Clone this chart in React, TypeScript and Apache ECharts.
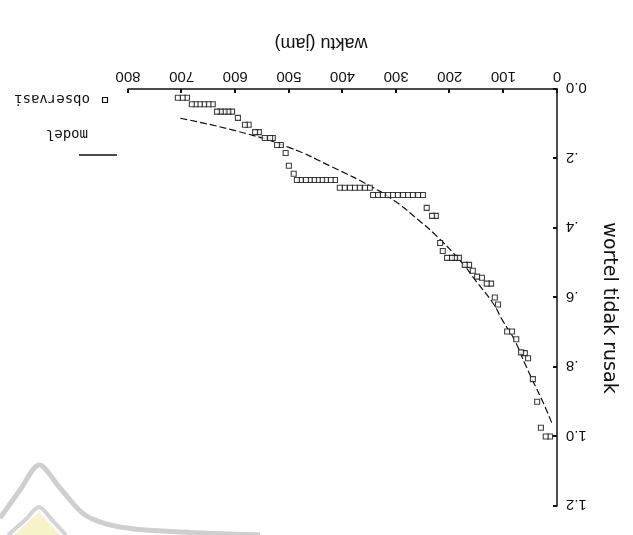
import React, { useEffect, useRef } from "react";
import * as echarts from "echarts";

// ---- data (hours, fraction of undamaged carrots) ----
const xTickValues = [0, 100, 200, 300, 400, 500, 600, 700, 800];
const yTickLabels = ["0.0", ".2", ".4", ".6", ".8", "1.0", "1.2"];

const obsTime = [
  13, 21, 30, 37, 45, 54, 60, 67, 76, 84, 93, 110, 116, 123, 131, 140, 149, 157, 164, 172,
  183, 190, 196, 205, 213, 218, 226, 233, 243,
  250, 259, 269, 278, 287, 297, 306, 315, 325, 334, 343,
  349, 358, 368, 377, 386, 396, 405,
  414, 422, 431, 438, 446, 453, 461, 468, 478, 485,
  491, 500, 506, 515, 522, 530, 535, 545, 556, 563, 575, 582, 595,
  606, 613, 620, 627, 634,
  642, 650, 658, 666, 674, 681,
  690, 698, 707,
];
const obsFraction = [
  1.0, 1.0, 0.975, 0.9, 0.835, 0.775, 0.76, 0.758, 0.72, 0.698, 0.698, 0.62, 0.6, 0.56, 0.56, 0.543, 0.54, 0.523, 0.506, 0.506,
  0.486, 0.486, 0.486, 0.486, 0.466, 0.443, 0.365, 0.365, 0.342,
  0.305, 0.305, 0.305, 0.305, 0.305, 0.305, 0.305, 0.305, 0.305, 0.305, 0.305,
  0.284, 0.284, 0.284, 0.284, 0.284, 0.284, 0.284,
  0.262, 0.262, 0.262, 0.262, 0.262, 0.262, 0.262, 0.262, 0.262, 0.262,
  0.244, 0.221, 0.184, 0.161, 0.161, 0.141, 0.141, 0.141, 0.124, 0.124, 0.103, 0.103, 0.083,
  0.065, 0.065, 0.065, 0.065, 0.065,
  0.044, 0.044, 0.044, 0.044, 0.044, 0.044,
  0.025, 0.025, 0.025,
];

const modelTime = [10, 25, 45, 60, 80, 100, 120, 150, 180, 230, 260, 300, 345, 420, 500, 600, 707];
const modelFraction = [0.96, 0.905, 0.84, 0.79, 0.72, 0.67, 0.615, 0.555, 0.495, 0.415, 0.375, 0.325, 0.282, 0.224, 0.168, 0.12, 0.083];

const W = 633;
const H = 535;
// the scanned page is upside down: graphic coordinates given in the page's frame are turned
const rot = (x: number, y: number) => [W - x, H - y];

export default function App() {
  const ref = useRef<HTMLDivElement>(null);

  useEffect(() => {
    const chart = echarts.init(ref.current!, null, { renderer: "svg" });
    const font = "'Liberation Sans', Arial, sans-serif";

    const wmOuter = [
      [0, 518], [20, 490], [39, 465], [60, 488], [85, 515], [120, 527], [180, 532], [260, 535],
    ].map(([x, y]) => rot(x, y));
    const wmInner = [[8, 535], [25, 520], [39, 507], [52, 520], [66, 535]].map(([x, y]) => rot(x, y));
    const wmFill = [[14, 535], [39, 512], [60, 535]].map(([x, y]) => rot(x, y));

    const option: any = {
      animation: false,
      backgroundColor: "#ffffff",
      grid: { left: 76, right: 128, top: 29, bottom: 89 },
      xAxis: {
        type: "value",
        min: 0,
        max: 800,
        interval: 100,
        name: "waktu (jam)",
        nameLocation: "middle",
        nameGap: 36,
        nameTextStyle: { fontFamily: font, fontSize: 18, color: "#111", padding: [0, 0, 0, 43] },
        axisLine: { lineStyle: { color: "#111", width: 1.5 } },
        axisTick: { inside: true, length: 4, lineStyle: { color: "#111", width: 2 } },
        axisLabel: {
          margin: 4,
          fontFamily: font,
          fontSize: 15,
          color: "#111",
          formatter: (v: number) => (xTickValues.includes(v) ? String(v) : ""),
        },
        splitLine: { show: false },
      },
      yAxis: {
        type: "value",
        min: 0,
        max: 1.2,
        interval: 0.2,
        name: "wortel tidak rusak",
        nameLocation: "middle",
        nameRotate: 90,
        nameGap: 45,
        nameTextStyle: { fontFamily: "'DejaVu Sans', sans-serif", fontSize: 19, color: "#111", padding: [0, 0, 0, 21] },
        axisLine: { lineStyle: { color: "#111", width: 1.5 } },
        axisTick: { inside: true, length: 4, lineStyle: { color: "#111", width: 2 } },
        axisLabel: {
          margin: 9,
          fontFamily: font,
          fontSize: 15,
          color: "#111",
          formatter: (v: number) => yTickLabels[Math.round(v / 0.2)] ?? "",
        },
        splitLine: { show: false },
      },
      series: [
        {
          name: "model",
          type: "line",
          data: modelTime.map((t, i) => [t, modelFraction[i]]),
          smooth: true,
          showSymbol: false,
          lineStyle: { color: "#111", width: 1.2, type: [7, 3] },
          z: 2,
        },
        {
          name: "observasi",
          type: "scatter",
          data: obsTime.map((t, i) => [t, obsFraction[i]]),
          symbol: "rect",
          symbolSize: 5,
          itemStyle: { color: "#ffffff", borderColor: "#111", borderWidth: 1.1 },
          z: 3,
        },
      ],
      graphic: [
        // legend
        { type: "line", shape: { x1: 516, y1: 380, x2: 554, y2: 380 }, style: { stroke: "#111", lineWidth: 1.5 } },
        {
          type: "text",
          x: 545,
          y: 400,
          style: { text: "model", font: "14px 'DejaVu Sans Mono', monospace", fill: "#111", verticalAlign: "middle" },
        },
        { type: "rect", shape: { x: 525.5, y: 432.5, width: 5, height: 5 }, style: { fill: "#fff", stroke: "#111", lineWidth: 1.2 } },
        {
          type: "text",
          x: 543,
          y: 435,
          style: { text: "observasi", font: "14px 'DejaVu Sans Mono', monospace", fill: "#111", verticalAlign: "middle" },
        },
        // faint watermark of the scanned page
        { type: "polygon", shape: { points: wmFill }, style: { fill: "#f7f3c4", opacity: 0.9 }, z: -1 },
        { type: "polyline", shape: { points: wmOuter, smooth: 0.3 }, style: { stroke: "#cfcfcf", lineWidth: 5, fill: "none" }, z: -1 },
        { type: "polyline", shape: { points: wmInner, smooth: 0.3 }, style: { stroke: "#d4d4d4", lineWidth: 4, fill: "none" }, z: -1 },
      ],
    };

    chart.setOption(option);
    return () => chart.dispose();
  }, []);

  return (
    <div
      ref={ref}
      style={{
        position: "fixed",
        left: 0,
        top: 0,
        width: W,
        height: H,
        background: "#fff",
        transform: "rotate(180deg)",
      }}
    />
  );
}
